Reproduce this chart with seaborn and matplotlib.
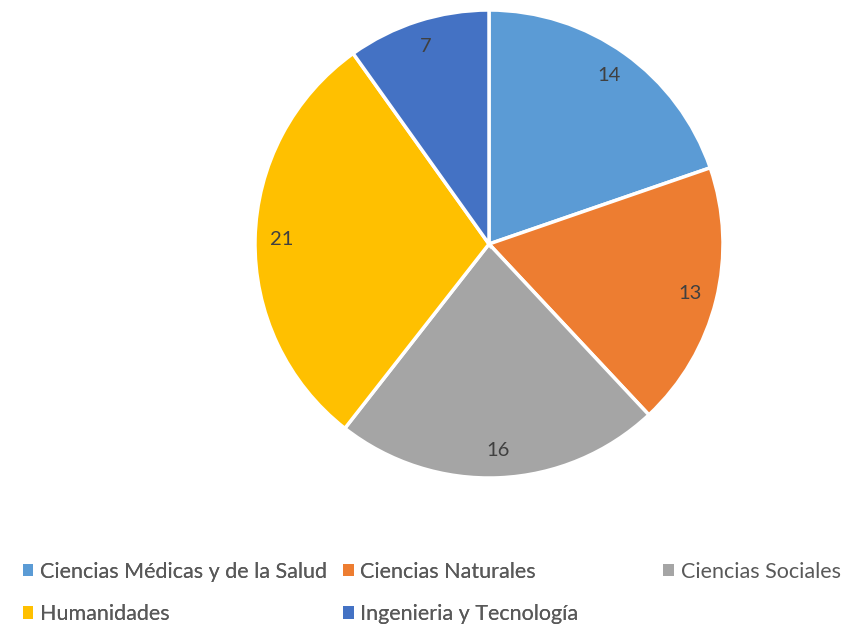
import matplotlib
matplotlib.use("Agg")
import matplotlib.pyplot as plt
import seaborn as sns
from matplotlib.patches import Patch

sns.set_theme(style="white")
plt.rcParams['font.family'] = ['Lato', 'DejaVu Sans']

# data
categories = ["Ciencias Médicas y de la Salud", "Ciencias Naturales", "Ciencias Sociales",
              "Humanidades", "Ingenieria y Tecnología"]
values = [14, 13, 16, 21, 7]
colors = ["#5B9BD5", "#ED7D31", "#A5A5A5", "#FFC000", "#4472C4"]

total = sum(values)

fig = plt.figure(figsize=(8.41, 6.26), dpi=100)
ax = fig.add_axes([0.3032, 0.2364, 0.5565, 0.7476])

wedges, texts, autotexts = ax.pie(
    values, colors=colors, startangle=90, counterclock=False,
    autopct=lambda p: f"{round(p * total / 100)}", pctdistance=0.885,
    wedgeprops=dict(edgecolor="white", linewidth=2.5),
    textprops=dict(color="#404040", fontsize=14.5),
)
ax.set_xlim(-1, 1)
ax.set_ylim(-1, 1)
ax.set_aspect("equal")

handles = [Patch(facecolor=c, edgecolor="none") for c in colors]

leg_kw = dict(frameon=False, fontsize=15.5, handlelength=0.5, handleheight=0.5,
              handletextpad=0.3, labelcolor="#595959", borderpad=0)

# first legend: two columns, row-major reading order
order = [0, 3, 1, 4]
leg1 = fig.legend([handles[i] for i in order], [categories[i] for i in order],
                  ncol=2, loc="upper left", bbox_to_anchor=(0.014, 0.12),
                  columnspacing=0.75, labelspacing=1.05, **leg_kw)
fig.add_artist(leg1)
fig.legend([handles[2]], [categories[2]], loc="upper left", bbox_to_anchor=(0.776, 0.12),
           **leg_kw)

fig.savefig("out.png", dpi=100)
